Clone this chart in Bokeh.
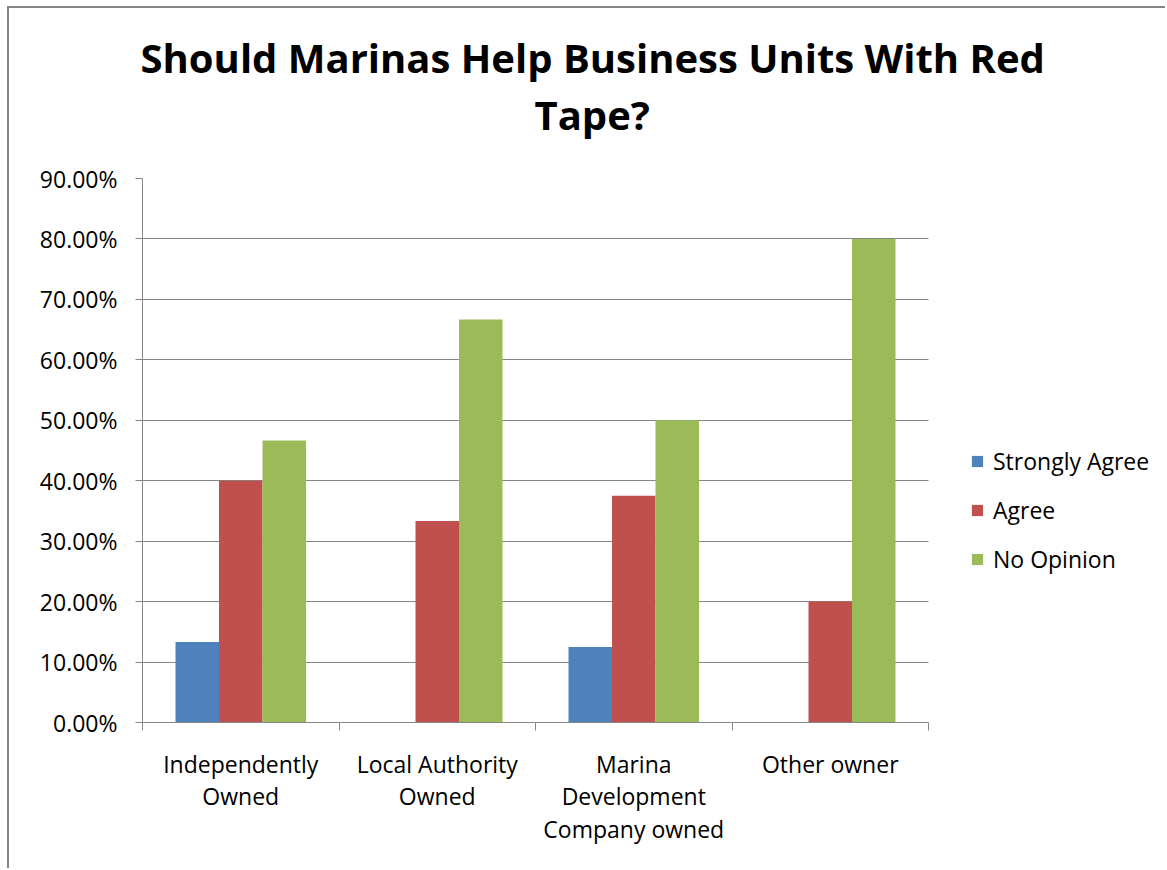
from bokeh.plotting import figure
from bokeh.models import (ColumnDataSource, FixedTicker, NumeralTickFormatter, Legend,
                          LegendItem, Title, Range1d, Grid, LinearAxis)
from bokeh.embed import file_html
from bokeh.resources import INLINE

# ---- data ----
categories = ["Independently\nOwned", "Local Authority\nOwned",
              "Marina\nDevelopment\nCompany owned", "Other owner"]
series_names = ["Strongly Agree", "Agree", "No Opinion"]
strongly_agree = [0.1333, 0.0, 0.125, 0.0]
agree = [0.40, 0.3333, 0.375, 0.20]
no_opinion = [0.4667, 0.6667, 0.50, 0.80]
y_ticks = [0.0, 0.1, 0.2, 0.3, 0.4, 0.5, 0.6, 0.7, 0.8, 0.9]
title_lines = ["Should Marinas Help Business Units With Red", "Tape?"]

colors = ["#4F81BD", "#C0504D", "#9BBB59"]
FONT = "Open Sans"
GRAY = "#868686"

# canvas origin inside the page (room for the chart-area border)
OX, OY = 9, 8
W, H = 1167 - OX, 870 - OY
L, T, B = 142 - OX, 178 - OY, 148
R = 5
PLOT_PX = 928 - 142                      # width of the category area in pixels
n_cat = len(categories)
frame_w = W - L - R
x_end = n_cat * frame_w / PLOT_PX         # extend range so the legend sits inside the frame

p = figure(width=W, height=H, output_backend="svg", toolbar_location=None, title=None,
           x_range=Range1d(0, x_end), y_range=Range1d(0, 0.9),
           min_border_left=L, min_border_right=R, min_border_top=T, min_border_bottom=B)
p.outline_line_color = None
p.background_fill_color = "white"
p.border_fill_color = "white"
p.margin = (OY - 2, 0, 0, OX - 2)
p.styles = {"border-left": "2px solid #868686", "border-top": "2px solid #868686"}

bar_w = 0.2214
offsets = [-bar_w, 0.0, bar_w]
all_series = [strongly_agree, agree, no_opinion]
renderers = []
for name, vals, off, col in zip(series_names, all_series, offsets, colors):
    src = ColumnDataSource(dict(x=[i + 0.5 + off for i in range(n_cat)], top=vals))
    r = p.vbar(x="x", top="top", width=bar_w, source=src, fill_color=col, line_color=None)
    renderers.append((name, r))

# grid
p.xgrid.visible = False
yg = p.ygrid[0]
yg.ticker = FixedTicker(ticks=y_ticks)
if "cross_bounds" in Grid.properties():
    yg.grid_line_color = GRAY
    yg.grid_line_width = 1
    yg.cross_bounds = (0, n_cat)
else:
    yg.visible = False
    p.segment(x0=[0] * len(y_ticks), x1=[n_cat] * len(y_ticks), y0=y_ticks, y1=y_ticks,
              line_color=GRAY, line_width=1, level="underlay")

# y axis
ya = p.yaxis[0]
ya.ticker = FixedTicker(ticks=y_ticks)
ya.formatter = NumeralTickFormatter(format="0.00%")
ya.axis_line_color = GRAY
ya.major_tick_line_color = GRAY
ya.major_tick_out = 7
ya.major_tick_in = 0
ya.minor_tick_line_color = None
ya.major_label_standoff = 18
ya.major_label_text_font = FONT
ya.major_label_text_font_size = "23px"
ya.major_label_text_color = "black"

# x axis
xa = p.xaxis[0]
xa.bounds = (0, n_cat)
xa.ticker = FixedTicker(ticks=[i + 0.5 for i in range(n_cat)],
                        minor_ticks=list(range(n_cat + 1)))
xa.major_label_overrides = {i + 0.5: c for i, c in enumerate(categories)}
xa.axis_line_color = GRAY
xa.major_tick_line_color = None
xa.major_tick_out = 0
xa.major_tick_in = 0
xa.minor_tick_line_color = GRAY
xa.minor_tick_out = 8
xa.minor_tick_in = 0
xa.major_label_standoff = 17
xa.major_label_text_font = FONT
xa.major_label_text_font_size = "23px"
xa.major_label_text_line_height = 1.02
xa.major_label_text_color = "black"

# legend
legend = Legend(items=[LegendItem(label=n, renderers=[r]) for n, r in renderers],
                location=(970 - 142, 147), orientation="vertical")
legend.border_line_color = None
legend.background_fill_alpha = 0
legend.padding = 0
legend.margin = 0
legend.glyph_width = 14
legend.glyph_height = 14
legend.label_standoff = 9
legend.label_height = 31
legend.spacing = 17
legend.label_text_font = FONT
legend.label_text_font_size = "23px"
legend.label_text_color = "black"
p.add_layout(legend, "center")

# invisible spacer between the frame and the title (one hidden tick gives it its height)
spacer = LinearAxis(ticker=FixedTicker(ticks=[0.5], minor_ticks=[]), axis_line_color=None,
                    major_tick_line_color=None, minor_tick_line_color=None,
                    major_tick_out=37, major_tick_in=0, minor_tick_out=0, minor_tick_in=0,
                    major_label_standoff=0, major_label_text_font_size="1px",
                    major_label_overrides={0.5: ""})
p.add_layout(spacer, "above")

# title: two centred lines (second line nearest the frame)
def make_title(text, offset, standoff):
    return Title(text=text, align="left", offset=offset, standoff=standoff,
                 text_font=FONT, text_font_style="bold", text_font_size="40px",
                 text_color="black")

p.add_layout(make_title(title_lines[1], 392, 0), "above")
p.add_layout(make_title(title_lines[0], -2, 0), "above")

open("out.html", "w").write(file_html(p, INLINE))
